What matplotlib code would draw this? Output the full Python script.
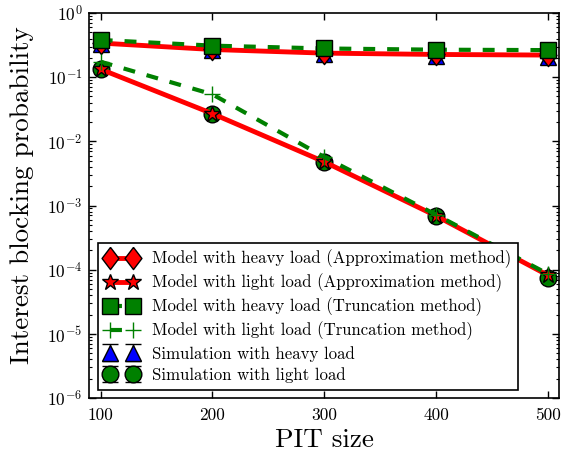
import matplotlib
matplotlib.use("Agg")
import matplotlib.pyplot as plt
import numpy as np

plt.rcParams['font.family'] = ['cmr10', 'DejaVu Serif']
plt.rcParams['mathtext.fontset'] = 'cm'
plt.rcParams['axes.unicode_minus'] = False
plt.rcParams['lines.scale_dashes'] = False

pit_size = [100, 200, 300, 400, 500]
heavy_approx = [0.34, 0.27, 0.237, 0.226, 0.221]
light_approx = [0.133, 0.027, 0.0048, 6.9e-4, 8.2e-5]
heavy_trunc = [0.38, 0.31, 0.28, 0.268, 0.264]
light_trunc = [0.174, 0.054, 0.0057, 7.2e-4, 8.6e-5]
sim_heavy = [0.33, 0.262, 0.228, 0.216, 0.205]
sim_light = [0.133, 0.027, 0.0048, 6.8e-4, 7.3e-5]
sim_heavy_err = [0.01, 0.008, 0.006, 0.006, 0.006]
sim_light_err = [0.004, 0.0008, 0.00015, 2e-5, 2.5e-6]

labels = ["Model with heavy load (Approximation method)",
          "Model with light load (Approximation method)",
          "Model with heavy load (Truncation method)",
          "Model with light load (Truncation method)",
          "Simulation with heavy load",
          "Simulation with light load"]

diamond = [(0, 0.5), (0.38, 0), (0, -0.5), (-0.38, 0), (0, 0.5)]

fig = plt.figure(figsize=(5.61, 4.58), dpi=100)
ax = fig.add_axes([0.1595, 0.131, 0.8369, 0.8406])

e1 = ax.errorbar(pit_size, sim_heavy, yerr=sim_heavy_err, fmt='^', color='blue',
                 ecolor='black', mec='black', ms=11, capsize=6, elinewidth=1, mew=1,
                 linestyle='none', zorder=1.5)
e2 = ax.errorbar(pit_size, sim_light, yerr=sim_light_err, fmt='o', color='green',
                 ecolor='black', mec='black', ms=12, capsize=6, elinewidth=1, mew=1,
                 linestyle='none', zorder=1.5)
l1, = ax.plot(pit_size, heavy_approx, color='red', lw=3.5, marker=diamond, ms=16,
              mec='black', mew=1, zorder=2)
l2, = ax.plot(pit_size, light_approx, color='red', lw=3.5, marker='*', ms=12,
              mec='black', mew=1, zorder=2)
l3, = ax.plot(pit_size, heavy_trunc, color='green', lw=3, ls='--', dashes=(8.6, 8.6),
              marker='s', ms=12, mec='black', mew=1, zorder=2.1)
l4, = ax.plot(pit_size, light_trunc, color='green', lw=3, ls='--', dashes=(8.6, 8.6),
              marker='+', ms=11, mec='green', mew=1, zorder=2.1)

ax.set_yscale('log')
ax.set_xlim(90, 510)
ax.set_ylim(1e-6, 1)
ax.set_xticks(pit_size)
ax.set_xticklabels([str(v) for v in pit_size])
ax.tick_params(which='both', direction='in', top=True, right=True, labelsize=12.5)
ax.tick_params(which='major', length=5, width=1)
ax.tick_params(which='minor', length=2.5, width=0.8)
ax.tick_params(axis='x', pad=7)
ax.tick_params(axis='y', pad=5)
for s in ax.spines.values():
    s.set_linewidth(1.2)

ax.set_xlabel("PIT size", fontsize=19.5)
ax.set_ylabel("Interest blocking probability", fontsize=19.5)
ax.yaxis.set_label_coords(-0.118, 0.527)

leg = ax.legend([l1, l2, l3, l4, e1, e2], labels, loc='lower left', numpoints=2,
                fontsize=12.1, handlelength=2.0, handletextpad=0.8, labelspacing=0.32,
                borderpad=0.4, borderaxespad=0.5, fancybox=False, framealpha=1)
leg.get_frame().set_edgecolor('black')
leg.get_frame().set_linewidth(1.2)

fig.savefig("out.png", dpi=100)
